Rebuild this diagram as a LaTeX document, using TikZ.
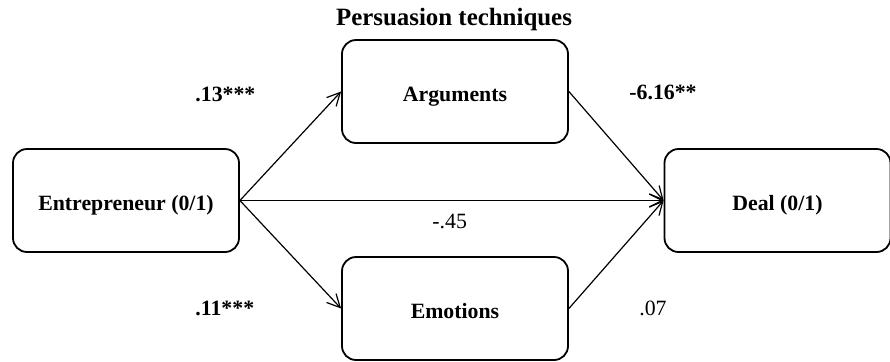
\documentclass[tikz,border=0pt]{standalone}
\usepackage{fontspec}
\setmainfont{Liberation Serif}
\usetikzlibrary{arrows.meta}
\begin{document}
\begin{tikzpicture}[x=0.5pt,y=-0.5pt,
  box/.style={draw,rectangle,rounded corners=7pt,line width=0.9pt,minimum width=113pt,minimum height=51.5pt,font=\fontsize{10.9}{13}\selectfont\bfseries,inner sep=0pt,text height=9.5pt,text depth=0pt},
  conn/.style={line width=0.6pt,-{Straight Barb[length=6.5pt,width=6.5pt,line width=0.6pt]}},
  lab/.style={inner sep=0pt,font=\fontsize{10.9}{13}\selectfont},
  blab/.style={lab,font=\fontsize{10.9}{13}\selectfont\bfseries}]
\useasboundingbox (0,0) rectangle (890,361);
\node[box] (ent) at (126,200.5) {Entrepreneur (0/1)};
\node[box] (arg) at (455,91.5) {Arguments};
\node[box] (emo) at (455,308.5) {Emotions};
\node[box] (deal) at (777.5,200.5) {Deal (0/1)};
\node[inner sep=0pt,anchor=base,font=\fontsize{12.45}{15}\selectfont\bfseries] (title) at (454,25) {Persuasion techniques};
\draw[conn] (ent.east) -- (arg.west);
\draw[conn] (ent.east) -- (emo.west);
\draw[conn] (ent.east) -- (deal.west);
\draw[conn] (arg.east) -- (deal.west);
\draw[conn] (emo.east) -- (deal.west);
\node[blab,anchor=base west] (l1) at (195,101) {.13***};
\node[blab,anchor=base east] (l2) at (697,99) {-6.16**};
\node[lab,anchor=base west] (l3) at (432,228) {-.45};
\node[blab,anchor=base west] (l4) at (195,315) {.11***};
\node[lab,anchor=base east] (l5) at (667,315) {.07};
\end{tikzpicture}
\end{document}
